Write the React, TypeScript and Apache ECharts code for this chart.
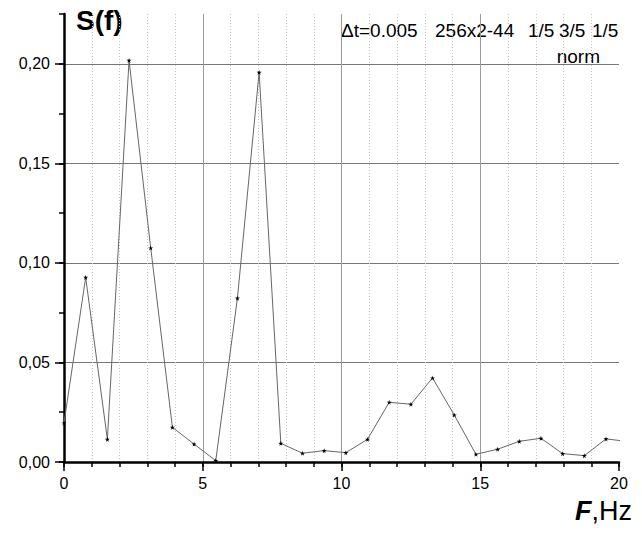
import React, { useEffect, useRef } from "react";
import * as echarts from "echarts";

const freqs = [0, 0.781, 1.563, 2.344, 3.125, 3.906, 4.688, 5.469, 6.25, 7.031, 7.813, 8.594, 9.375, 10.156, 10.938, 11.719, 12.5, 13.281, 14.063, 14.844, 15.625, 16.406, 17.188, 17.969, 18.75, 19.531, 20.313];
const spectrum = [0.0196, 0.0927, 0.0114, 0.2017, 0.1075, 0.0174, 0.009, 0.0007, 0.0823, 0.1957, 0.0094, 0.0044, 0.0057, 0.0047, 0.0114, 0.03, 0.029, 0.0422, 0.0236, 0.0039, 0.0064, 0.0104, 0.0119, 0.0042, 0.0032, 0.0116, 0.0103];
const yMajorTicks = [0, 0.05, 0.1, 0.15, 0.2];
const xMajorTicks = [0, 5, 10, 15, 20];
const annotationTokens = ["\u0394t=0.005", "256x2-44", "1/5", "3/5", "1/5"];
const annotationX = [341, 435, 528, 559, 592];

const FONT = "'Liberation Sans', Arial, sans-serif";
const STAR = "path://M50,0 L61,35 L98,35 L68,57 L79,91 L50,70 L21,91 L32,57 L2,35 L39,35 Z";

export default function App() {
  const ref = useRef<HTMLDivElement>(null);
  useEffect(() => {
    if (!ref.current) return;
    const chart = echarts.init(ref.current, null, { renderer: "svg" });
    const T = "rgba(0,0,0,0)";
    const D = "#c4c4c4";
    const option: any = {
      animation: false,
      backgroundColor: "#fff",
      grid: { left: 64, right: 23, top: 14, bottom: 71, containLabel: false, outerBoundsMode: "none" },
      xAxis: [
        {
          type: "value", position: "bottom", min: 0, max: 20, interval: 1,
          axisLine: { show: true, lineStyle: { color: "#000", width: 2.5 } },
          axisTick: { show: true, length: 5, lineStyle: { color: "#000", width: 1.5 } },
          axisLabel: { show: false },
          splitLine: { show: true, lineStyle: { color: [T, D, D, D, D], type: [1, 2], width: 1 } },
        },
        {
          type: "value", position: "bottom", min: 0, max: 20, interval: 5,
          axisLine: { show: false },
          axisTick: { show: true, length: 9, lineStyle: { color: "#000", width: 1.5 }, customValues: xMajorTicks },
          axisLabel: { show: true, color: "#000", fontSize: 16, fontFamily: FONT, margin: 13, customValues: xMajorTicks },
          splitLine: { show: true, lineStyle: { color: [T, "#9a9a9a", "#9a9a9a", "#9a9a9a", T], width: 1 } },
        },
      ],
      yAxis: [
        {
          type: "value", position: "left", min: 0, max: 0.225, interval: 0.025,
          axisLine: { show: true, lineStyle: { color: "#000", width: 2.5 } },
          axisTick: { show: true, length: 5, lineStyle: { color: "#000", width: 1.5 } },
          axisLabel: { show: false },
          splitLine: { show: false },
        },
        {
          type: "value", position: "left", min: 0, max: 0.225, interval: 0.05,
          axisLine: { show: false },
          axisTick: { show: true, length: 9, lineStyle: { color: "#000", width: 1.5 }, customValues: yMajorTicks },
          axisLabel: {
            show: true, color: "#000", fontSize: 16, fontFamily: FONT, margin: 14, customValues: yMajorTicks,
            formatter: (v: number) => (Math.abs(v / 0.05 - Math.round(v / 0.05)) < 1e-6 ? v.toFixed(2).replace(".", ",") : ""),
          },
          splitLine: { show: true, lineStyle: { color: ["#777", "#777", "#777", "#777", "#777", T], width: 1 } },
        },
      ],
      series: [
        {
          type: "line",
          xAxisIndex: 0,
          yAxisIndex: 0,
          data: freqs.map((f, i) => [f, spectrum[i]]),
          clip: true,
          symbol: STAR,
          symbolSize: 5,
          showAllSymbol: true,
          itemStyle: { color: "#000" },
          lineStyle: { color: "#666", width: 1 },
          z: 5,
        },
      ],
      graphic: [
        { type: "text", x: 76, y: 20, style: { text: "S(f)", font: `bold 28px ${FONT}`, fill: "#000", textAlign: "left", textVerticalAlign: "middle" } },
        ...annotationTokens.map((t, i) => ({
          type: "text", x: annotationX[i], y: 30,
          style: { text: t, font: `19px ${FONT}`, fill: "#000", textAlign: "left", textVerticalAlign: "middle" },
        })),
        { type: "text", x: 600, y: 56, style: { text: "norm", font: `19px ${FONT}`, fill: "#000", textAlign: "right", textVerticalAlign: "middle" } },
        {
          type: "text", x: 575, y: 511,
          style: {
            text: "{b|F}{n|,Hz}", textAlign: "left", textVerticalAlign: "middle",
            rich: {
              b: { fontSize: 27, fontWeight: "bold", fontStyle: "italic", fontFamily: FONT, fill: "#000", color: "#000" },
              n: { fontSize: 27, fontFamily: FONT, fill: "#000", color: "#000" },
            },
          },
        },
      ],
    };
    chart.setOption(option);
    return () => chart.dispose();
  }, []);
  return <div ref={ref} style={{ position: "fixed", left: 0, top: 0, width: 642, height: 533, background: "#fff" }} />;
}
